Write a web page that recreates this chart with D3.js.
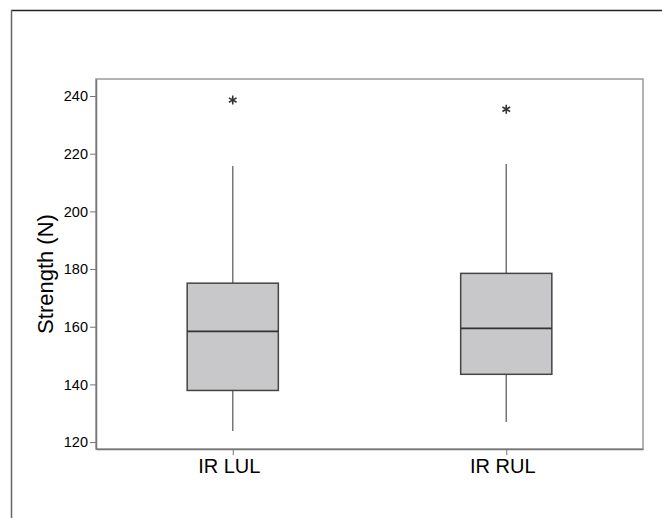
<!DOCTYPE html>
<html>
<head>
<meta charset="utf-8">
<script src="https://cdn.jsdelivr.net/npm/d3@7.9.0/dist/d3.min.js"></script>
<style>
  body { margin: 0; background: #fff; }
  svg { display: block; font-family: "Liberation Sans", Arial, sans-serif; }
</style>
</head>
<body>
<svg id="chart" width="662" height="518"></svg>
<script>
// box stats
const groups = ['IR LUL', 'IR RUL'];
const whiskerLow = [123.8, 127.0];
const q1 = [137.9, 143.5];
const median = [158.4, 159.4];
const q3 = [175.1, 178.5];
const whiskerHigh = [215.7, 216.4];
const outliers = [[238.6], [235.4]];
const yTicks = [120, 140, 160, 180, 200, 220, 240];

const svg = d3.select('#chart');
const margin = { top: 79, right: 19, bottom: 69, left: 96 };
const width = 662 - margin.left - margin.right;
const height = 518 - margin.top - margin.bottom;

// outer frame (only top and left edges visible)
svg.append('line').attr('x1', 11).attr('x2', 662).attr('y1', 10.5).attr('y2', 10.5)
  .attr('stroke', '#222').attr('stroke-width', 1.5);
svg.append('line').attr('x1', 11.5).attr('x2', 11.5).attr('y1', 10).attr('y2', 518)
  .attr('stroke', '#666').attr('stroke-width', 1.5);

const g = svg.append('g').attr('transform', `translate(${margin.left},${margin.top})`);

const x = d3.scalePoint().domain(groups).range([0, width]).padding(0.5);
const y = d3.scaleLinear().domain([117.6, 245.9]).range([height, 0]);
const boxW = x.step() / 3;

// plot frame
g.append('rect').attr('width', width).attr('height', height)
  .attr('fill', 'none').attr('stroke', '#9a9a9a').attr('stroke-width', 1.5);

const yAxis = g.append('g')
  .call(d3.axisLeft(y).tickValues(yTicks).tickSize(6).tickSizeOuter(0).tickPadding(2));
yAxis.select('.domain').attr('stroke', '#777').attr('stroke-width', 1.5);
yAxis.selectAll('.tick line').attr('stroke', '#777');
yAxis.selectAll('.tick text').attr('font-size', 14.5).attr('fill', '#000')
  .attr('font-family', '"Liberation Sans", Arial, sans-serif');

const xAxis = g.append('g').attr('transform', `translate(0,${height})`)
  .call(d3.axisBottom(x).tickSize(6).tickSizeOuter(0).tickPadding(4));
xAxis.select('.domain').attr('stroke', '#777').attr('stroke-width', 1.5);
xAxis.selectAll('.tick line').attr('stroke', '#777');
xAxis.selectAll('.tick text').attr('font-size', 20).attr('fill', '#000')
  .attr('dx', -4).attr('font-family', '"Liberation Sans", Arial, sans-serif');

svg.append('text')
  .attr('transform', 'translate(53,274) rotate(-90)')
  .attr('text-anchor', 'middle')
  .attr('font-size', 22)
  .text('Strength (N)');

const boxes = g.selectAll('.box').data(groups).join('g')
  .attr('class', 'box')
  .attr('transform', (d) => `translate(${x(d)},0)`);

// whiskers
boxes.append('line').attr('y1', (d, i) => y(whiskerLow[i])).attr('y2', (d, i) => y(q1[i]))
  .attr('stroke', '#777').attr('stroke-width', 1.5);
boxes.append('line').attr('y1', (d, i) => y(q3[i])).attr('y2', (d, i) => y(whiskerHigh[i]))
  .attr('stroke', '#777').attr('stroke-width', 1.5);

boxes.append('rect')
  .attr('x', -boxW / 2).attr('width', boxW)
  .attr('y', (d, i) => y(q3[i]))
  .attr('height', (d, i) => y(q1[i]) - y(q3[i]))
  .attr('fill', '#c8c8ca').attr('stroke', '#444').attr('stroke-width', 1.5);

boxes.append('line').attr('x1', -boxW / 2).attr('x2', boxW / 2)
  .attr('y1', (d, i) => y(median[i])).attr('y2', (d, i) => y(median[i]))
  .attr('stroke', '#333').attr('stroke-width', 1.8);

const star = d3.symbol().type(d3.symbolAsterisk).size(55);
boxes.each(function (d, i) {
  d3.select(this).selectAll('.out').data(outliers[i]).join('path')
    .attr('class', 'out')
    .attr('d', star)
    .attr('transform', (v) => `translate(0,${y(v)})`)
    .attr('stroke', '#333').attr('stroke-width', 1.6).attr('fill', 'none');
});
</script>
</body>
</html>
